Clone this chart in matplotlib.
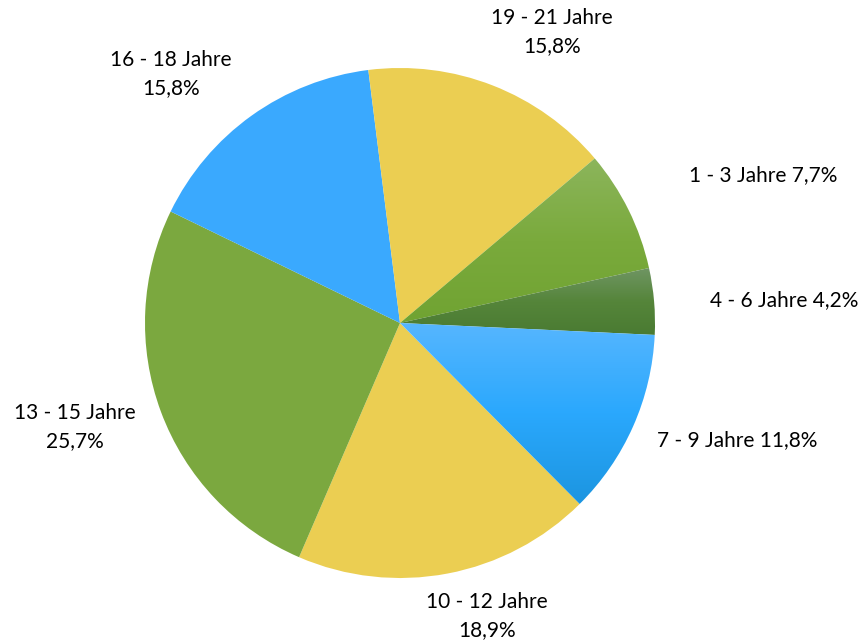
import matplotlib
matplotlib.use('Agg')
import matplotlib.pyplot as plt
import numpy as np
from matplotlib.colors import LinearSegmentedColormap

plt.rcParams['font.family'] = ['Lato', 'DejaVu Sans']

# Altersgruppen und Anteile (%)
labels = ['1 - 3 Jahre', '4 - 6 Jahre', '7 - 9 Jahre', '10 - 12 Jahre',
          '13 - 15 Jahre', '16 - 18 Jahre', '19 - 21 Jahre']
values = [7.7, 4.2, 11.8, 18.9, 25.7, 15.8, 15.8]
pct_text = ['7,7%', '4,2%', '11,8%', '18,9%', '25,7%', '15,8%', '15,8%']

# Farben (oben -> unten, für Verläufe)
colors_top = ['#8cb55c', '#6f9563', '#56b6ff', '#ebce52', '#7ba83f', '#3aa9fe', '#ebce52']
colors_mid = ['#7aaa3c', '#55853a', '#2aa8fd', '#ebce52', '#7ba83f', '#3aa9fe', '#ebce52']
colors_bot = ['#70a332', '#4a7b32', '#1c95e0', '#ebce52', '#7ba83f', '#3aa9fe', '#ebce52']

# Beschriftungspositionen in Pixeln (x, y von oben) und ob zweizeilig
label_pos = [(763, 175), (784, 300), (737, 440), (487, 616),
             (75, 427), (171, 74), (552, 32)]
two_lines = [False, False, False, True, True, True, True]

W, H = 864, 642
cx, cy, r = 400, 323, 255

fig = plt.figure(figsize=(W / 100, H / 100), dpi=100)
ax = fig.add_axes([0, 0, 1, 1])

wedges, _ = ax.pie(values, colors=colors_top, startangle=40.2, counterclock=False,
                   center=(cx, H - cy), radius=r,
                   wedgeprops=dict(linewidth=0, antialiased=True))

# vertikale Farbverläufe in den Segmenten
for w, ct, cm, cb in zip(wedges, colors_top, colors_mid, colors_bot):
    if ct == cb:
        continue
    w.set_facecolor('none')
    verts = w.get_path().vertices
    x0, x1 = verts[:, 0].min(), verts[:, 0].max()
    y0, y1 = verts[:, 1].min(), verts[:, 1].max()
    cmap = LinearSegmentedColormap.from_list('g', [ct, cm, cb])
    grad = np.linspace(0, 1, 256).reshape(-1, 1)
    im = ax.imshow(grad, cmap=cmap, extent=(x0, x1, y0, y1), origin='upper',
                   aspect='auto', interpolation='bilinear', zorder=w.get_zorder())
    im.set_clip_path(w)

for lab, pct, (px, py), tl in zip(labels, pct_text, label_pos, two_lines):
    txt = lab + ('\n' if tl else ' ') + pct
    ax.text(px, H - py, txt, ha='center', va='center', fontsize=15,
            color='black', linespacing=1.5)

ax.set_xlim(0, W)
ax.set_ylim(0, H)
ax.set_aspect('auto')
ax.axis('off')

fig.savefig('out.png', dpi=100, facecolor='white')
